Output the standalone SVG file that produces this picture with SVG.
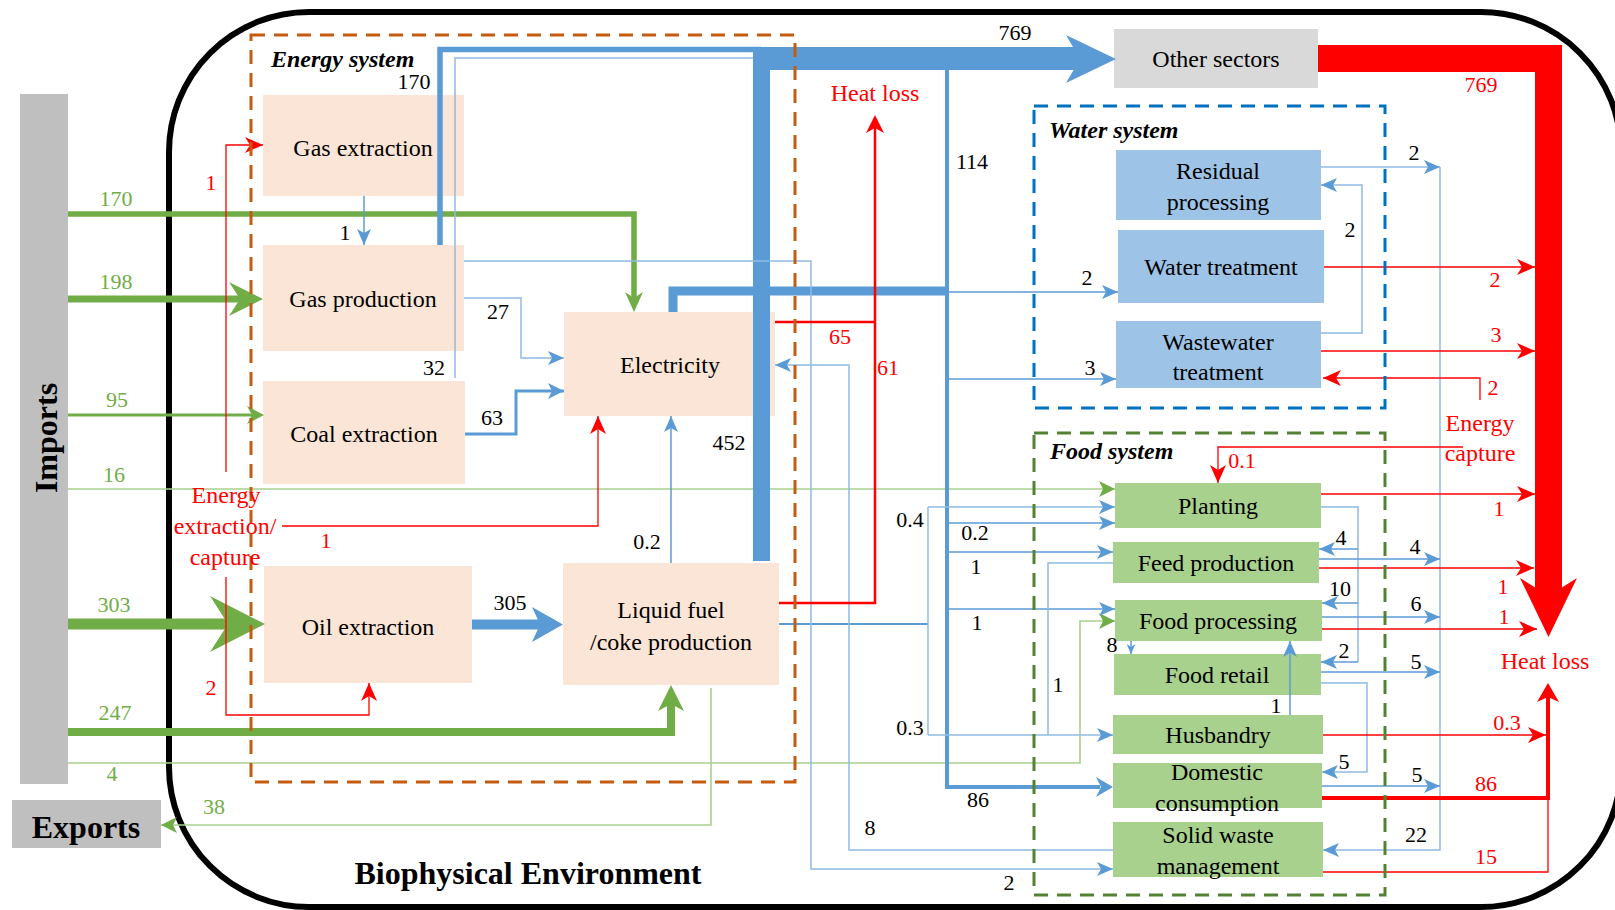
<svg xmlns="http://www.w3.org/2000/svg" width="1615" height="910" viewBox="0 0 1615 910">
<defs>
<style>
text{font-family:"Liberation Serif","Times New Roman",serif}
.nt{font-size:24px;fill:#000;text-anchor:middle}
.num{font-size:22px;fill:#000;text-anchor:middle}
.rn{font-size:22px;fill:#ff0000;text-anchor:middle}
.rt{font-size:24px;fill:#ff0000;text-anchor:middle}
.gn{font-size:22px;fill:#70ad47;text-anchor:middle}
.sys{font-size:24px;font-weight:bold;font-style:italic;fill:#000}
.big{font-size:32px;font-weight:bold;fill:#000;text-anchor:middle}
.en{fill:#fbe5d6}
.wa{fill:#9dc3e6}
.fo{fill:#a9d18e}
.gr{fill:#bfbfbf}
.c{fill:none;stroke-linejoin:miter}
.b{stroke:#5b9bd5;stroke-width:1.5}
.bl{stroke:#8fbbe3;stroke-width:1.5}
.r{stroke:#ff0000;stroke-width:1.3}
.g{stroke:#a9d18e;stroke-width:1.6}
.dash{fill:none;stroke-width:3;stroke-dasharray:14 9}
</style>
<marker id="ab" viewBox="0 0 16 14" refX="16" refY="7" markerWidth="16" markerHeight="14" markerUnits="userSpaceOnUse" orient="auto"><path d="M0,0 L16,7 L0,14 L4,7 z" fill="#5b9bd5"/></marker>
<marker id="abm" viewBox="0 0 16 16" refX="16" refY="8" markerWidth="16" markerHeight="16" markerUnits="userSpaceOnUse" orient="auto"><path d="M0,0 L16,8 L0,16 L4,8 z" fill="#5b9bd5"/></marker>
<marker id="abs" viewBox="0 0 10 9" refX="10" refY="4.5" markerWidth="10" markerHeight="9" markerUnits="userSpaceOnUse" orient="auto"><path d="M0,0 L10,4.5 L0,9 L3,4.5 z" fill="#5b9bd5"/></marker>
<marker id="ar" viewBox="0 0 18 16" refX="18" refY="8" markerWidth="18" markerHeight="16" markerUnits="userSpaceOnUse" orient="auto"><path d="M0,0 L18,8 L0,16 L5,8 z" fill="#ff0000"/></marker>
<marker id="ag" viewBox="0 0 16 16" refX="16" refY="8" markerWidth="16" markerHeight="16" markerUnits="userSpaceOnUse" orient="auto"><path d="M0,0 L16,8 L0,16 L4,8 z" fill="#70ad47"/></marker>
</defs>
<rect width="1615" height="910" fill="#fff"/>

<!-- biophysical environment boundary -->
<rect x="169" y="12" width="1452" height="895" rx="140" fill="none" stroke="#000" stroke-width="6"/>
<text class="big" x="528" y="884">Biophysical Environment</text>

<!-- imports / exports -->
<g id="imports"><rect class="gr" x="20" y="94" width="48" height="690"/><text class="big" transform="translate(57,438) rotate(-90)">Imports</text></g>
<g id="exports"><rect class="gr" x="12" y="800" width="149" height="48"/><text class="big" x="86" y="838">Exports</text></g>

<!-- energy system nodes -->
<g id="gas-extraction"><rect class="en" x="263" y="95" width="201" height="101"/><text class="nt" x="363" y="156">Gas extraction</text></g>
<g id="gas-production"><rect class="en" x="263" y="245" width="201" height="106"/><text class="nt" x="363" y="307">Gas production</text></g>
<g id="coal-extraction"><rect class="en" x="263" y="381" width="202" height="103"/><text class="nt" x="364" y="442">Coal extraction</text></g>
<g id="oil-extraction"><rect class="en" x="264" y="566" width="208" height="117"/><text class="nt" x="368" y="635">Oil extraction</text></g>
<g id="electricity"><rect class="en" x="564" y="312" width="211" height="104"/><text class="nt" x="670" y="373">Electricity</text></g>
<g id="liquid-fuel"><rect class="en" x="563" y="563" width="216" height="122"/><text class="nt" x="671" y="618">Liquid fuel</text><text class="nt" x="671" y="650">/coke production</text></g>
<g id="other-sectors"><rect x="1114" y="29" width="204" height="59" fill="#d9d9d9"/><text class="nt" x="1216" y="67">Other sectors</text></g>

<!-- water system nodes -->
<g id="residual-processing"><rect class="wa" x="1116" y="150" width="205" height="70"/><text class="nt" x="1218" y="179">Residual</text><text class="nt" x="1218" y="210">processing</text></g>
<g id="water-treatment"><rect class="wa" x="1118" y="230" width="206" height="73"/><text class="nt" x="1221" y="275">Water treatment</text></g>
<g id="wastewater-treatment"><rect class="wa" x="1116" y="321" width="205" height="67"/><text class="nt" x="1218" y="350">Wastewater</text><text class="nt" x="1218" y="380">treatment</text></g>

<!-- food system nodes -->
<g id="planting"><rect class="fo" x="1115" y="483" width="206" height="45"/><text class="nt" x="1218" y="514">Planting</text></g>
<g id="feed-production"><rect class="fo" x="1113" y="542" width="206" height="41"/><text class="nt" x="1216" y="571">Feed production</text></g>
<g id="food-processing"><rect class="fo" x="1115" y="600" width="207" height="41"/><text class="nt" x="1218" y="629">Food processing</text></g>
<g id="food-retail"><rect class="fo" x="1114" y="654" width="207" height="41"/><text class="nt" x="1217" y="683">Food retail</text></g>
<g id="husbandry"><rect class="fo" x="1113" y="715" width="210" height="39"/><text class="nt" x="1218" y="743">Husbandry</text></g>
<g id="domestic-consumption"><rect class="fo" x="1113" y="763" width="209" height="45"/><text class="nt" x="1217" y="780">Domestic</text><text class="nt" x="1217" y="811">consumption</text></g>
<g id="solid-waste"><rect class="fo" x="1113" y="822" width="210" height="55"/><text class="nt" x="1218" y="843">Solid waste</text><text class="nt" x="1218" y="874">management</text></g>

<g id="connectors">
<!-- imports (green) -->
<path class="c" d="M68,214 H634 V298" stroke="#70ad47" stroke-width="5.5"/>
<polygon points="625,292 634,312 643,292 634,298" fill="#70ad47"/>
<path class="c" d="M68,299 H242" stroke="#70ad47" stroke-width="7"/>
<polygon points="229,282 263,299 229,316 240,299" fill="#70ad47"/>
<path class="c" d="M68,415 H252" stroke="#70ad47" stroke-width="3"/>
<polygon points="247,406 264,415 247,424 252,415" fill="#70ad47"/>
<path class="c g" d="M68,489 H1115" marker-end="url(#ag)"/>
<path class="c" d="M68,624 H228" stroke="#70ad47" stroke-width="11"/>
<polygon points="210,596 265,624 210,652 228,624" fill="#70ad47"/>
<path class="c" d="M68,732 H671 V704" stroke="#70ad47" stroke-width="8"/>
<polygon points="658,711 671,685 684,711 671,704" fill="#70ad47"/>
<path class="c g" d="M68,763 H1080 V621 H1115" marker-end="url(#ag)"/>
<path class="c g" d="M711,688 V825 H161" marker-end="url(#ag)"/>

<!-- energy extraction / capture (red) -->
<path class="c r" d="M226,472 V145 H263" marker-end="url(#ar)"/>
<path class="c r" d="M282,526 H598 V416" marker-end="url(#ar)"/>
<path class="c r" d="M226,577 V715 H369 V683" marker-end="url(#ar)"/>

<!-- energy flows (blue) -->
<path class="c b" d="M364,196 V245" marker-end="url(#ab)"/>
<path class="c bl" d="M464,298 H521 V358 H564" marker-end="url(#ab)"/>
<path class="c" d="M465,434 H516 V391 H564" stroke="#5b9bd5" stroke-width="3" marker-end="url(#abm)"/>
<path class="c bl" d="M455,378 V58 H755"/>
<path class="c" d="M440,245 V49.5 H761" stroke="#5b9bd5" stroke-width="5.5"/>
<path class="c" d="M472,624.5 H541" stroke="#5b9bd5" stroke-width="10"/>
<polygon points="532,607 563,624.5 532,642 540,624.5" fill="#5b9bd5"/>
<path class="c b" d="M671,563 V416" marker-end="url(#ab)"/>
<path class="c" d="M761.5,561 V58" stroke="#5b9bd5" stroke-width="17"/>
<path class="c" d="M753,58.5 H1082" stroke="#5b9bd5" stroke-width="23"/>
<polygon points="1066,35 1116,59 1066,83 1080,59" fill="#5b9bd5"/>
<path class="c" d="M673,312 V291 H949" stroke="#5b9bd5" stroke-width="9"/>
<path class="c" d="M947,69 V787 H1100" stroke="#5b9bd5" stroke-width="4"/>
<polygon points="1096,777 1113,787 1096,797 1101,787" fill="#5b9bd5"/>
<path class="c b" d="M947,292 H1118" marker-end="url(#ab)"/>
<path class="c b" d="M947,379 H1116" marker-end="url(#ab)"/>
<path class="c b" d="M947,523 H1115" marker-end="url(#ab)"/>
<path class="c b" d="M947,552 H1113" marker-end="url(#ab)"/>
<path class="c b" d="M947,609 H1115" marker-end="url(#ab)"/>
<path class="c" d="M779,624 H928" stroke="#5b9bd5" stroke-width="2.2"/>
<path class="c bl" d="M928,735 V507"/>
<path class="c bl" d="M928,507 H1115" marker-end="url(#ab)"/>
<path class="c bl" d="M928,735 H1113" marker-end="url(#ab)"/>
<path class="c bl" d="M1113,563 H1048 V735"/>
<path class="c bl" d="M464,261 H811 V869 H1113" marker-end="url(#ab)"/>
<path class="c bl" d="M1113,850 H849 V365 H775" marker-end="url(#ab)"/>

<!-- heat loss from energy conversion (red) -->
<path class="c" d="M775,322 H875" stroke="#ff0000" stroke-width="2.5"/>
<path class="c" d="M779,603 H875 V128" stroke="#ff0000" stroke-width="2.5"/>
<polygon points="866,133 875,115 884,133 875,128" fill="#ff0000"/>

<!-- water system flows -->
<path class="c bl" d="M1321,167 H1440" marker-end="url(#ab)"/>
<path class="c bl" d="M1440,167 V850 H1323" marker-end="url(#ab)"/>
<path class="c bl" d="M1321,333 H1362 V185 H1321" marker-end="url(#ab)"/>
<path class="c r" d="M1324,267 H1535" marker-end="url(#ar)"/>
<path class="c r" d="M1321,351 H1535" marker-end="url(#ar)"/>
<path class="c r" d="M1480,400 V378 H1323" marker-end="url(#ar)"/>

<!-- food system flows -->
<path class="c r" d="M1463,447 H1218 V483" marker-end="url(#ar)"/>
<path class="c bl" d="M1321,507 H1358 V662"/>
<path class="c b" d="M1358,549 H1319" marker-end="url(#ab)"/>
<path class="c b" d="M1358,603 H1322" marker-end="url(#ab)"/>
<path class="c b" d="M1358,662 H1321" marker-end="url(#ab)"/>
<path class="c bl" d="M1321,683 H1367 V772 H1322" marker-end="url(#ab)"/>
<path class="c b" d="M1131,641 V654" marker-end="url(#abs)"/>
<path class="c b" d="M1290,715 V641" marker-end="url(#ab)"/>
<path class="c b" d="M1319,559 H1440" marker-end="url(#ab)"/>
<path class="c b" d="M1322,617 H1440" marker-end="url(#ab)"/>
<path class="c b" d="M1321,672 H1440" marker-end="url(#ab)"/>
<path class="c b" d="M1322,786 H1440" marker-end="url(#ab)"/>
<path class="c r" d="M1321,494 H1535" marker-end="url(#ar)"/>
<path class="c r" d="M1319,568 H1534" marker-end="url(#ar)"/>
<path class="c r" d="M1322,629 H1537" marker-end="url(#ar)"/>
<path class="c r" d="M1323,735 H1546" marker-end="url(#ar)"/>
<path class="c r" d="M1323,872 H1548 V798"/>
<path class="c" d="M1322,798 H1548 V697" stroke="#ff0000" stroke-width="4"/>
<polygon points="1537,702 1548,683 1559,702 1548,697" fill="#ff0000"/>

<!-- other sectors to heat loss -->
<path class="c" d="M1318,58.5 H1548.5 V600" stroke="#ff0000" stroke-width="27"/>
<polygon points="1520,578 1548.5,637 1577,578 1548.5,596" fill="#ff0000"/>
</g>

<!-- system boundaries -->
<rect class="dash" x="251" y="35" width="544" height="747" stroke="#c55a11"/>
<rect class="dash" x="1034" y="106" width="351" height="302" stroke="#0070c0"/>
<rect class="dash" x="1034" y="433" width="351" height="462" stroke="#548235"/>
<text class="sys" x="271" y="67">Energy system</text>
<text class="sys" x="1049" y="138">Water system</text>
<text class="sys" x="1050" y="459">Food system</text>

<!-- flow labels -->
<g id="labels">
<text class="gn" x="116" y="206">170</text>
<text class="gn" x="116" y="289">198</text>
<text class="gn" x="117" y="407">95</text>
<text class="gn" x="114" y="482">16</text>
<text class="gn" x="114" y="612">303</text>
<text class="gn" x="115" y="720">247</text>
<text class="gn" x="112" y="781">4</text>
<text class="gn" x="214" y="814">38</text>

<text class="rn" x="211" y="190">1</text>
<text class="rn" x="326" y="548">1</text>
<text class="rn" x="211" y="695">2</text>
<text class="rt" x="226" y="503">Energy</text>
<text class="rt" x="225" y="534">extraction/</text>
<text class="rt" x="225" y="565">capture</text>
<text class="rn" x="840" y="344">65</text>
<text class="rn" x="888" y="375">61</text>
<text class="rt" x="875" y="101">Heat loss</text>
<text class="rn" x="1495" y="287">2</text>
<text class="rn" x="1496" y="342">3</text>
<text class="rn" x="1493" y="395">2</text>
<text class="rt" x="1480" y="431">Energy</text>
<text class="rt" x="1480" y="461">capture</text>
<text class="rn" x="1242" y="468">0.1</text>
<text class="rn" x="1499" y="516">1</text>
<text class="rn" x="1503" y="594">1</text>
<text class="rn" x="1504" y="624">1</text>
<text class="rn" x="1507" y="730">0.3</text>
<text class="rn" x="1486" y="791">86</text>
<text class="rn" x="1486" y="864">15</text>
<text class="rn" x="1481" y="92">769</text>
<text class="rt" x="1545" y="669">Heat loss</text>

<text class="num" x="414" y="89">170</text>
<text class="num" x="1015" y="40">769</text>
<text class="num" x="972" y="169">114</text>
<text class="num" x="729" y="450">452</text>
<text class="num" x="647" y="549">0.2</text>
<text class="num" x="510" y="610">305</text>
<text class="num" x="498" y="319">27</text>
<text class="num" x="492" y="425">63</text>
<text class="num" x="434" y="375">32</text>
<text class="num" x="345" y="240">1</text>
<text class="num" x="1087" y="285">2</text>
<text class="num" x="1090" y="375">3</text>
<text class="num" x="910" y="527">0.4</text>
<text class="num" x="975" y="540">0.2</text>
<text class="num" x="976" y="574">1</text>
<text class="num" x="977" y="630">1</text>
<text class="num" x="910" y="735">0.3</text>
<text class="num" x="978" y="807">86</text>
<text class="num" x="870" y="835">8</text>
<text class="num" x="1009" y="890">2</text>
<text class="num" x="1058" y="692">1</text>
<text class="num" x="1414" y="160">2</text>
<text class="num" x="1350" y="237">2</text>
<text class="num" x="1341" y="545">4</text>
<text class="num" x="1340" y="596">10</text>
<text class="num" x="1344" y="658">2</text>
<text class="num" x="1344" y="769">5</text>
<text class="num" x="1112" y="652">8</text>
<text class="num" x="1276" y="713">1</text>
<text class="num" x="1415" y="554">4</text>
<text class="num" x="1416" y="611">6</text>
<text class="num" x="1416" y="669">5</text>
<text class="num" x="1417" y="782">5</text>
<text class="num" x="1416" y="842">22</text>
</g>
</svg>
